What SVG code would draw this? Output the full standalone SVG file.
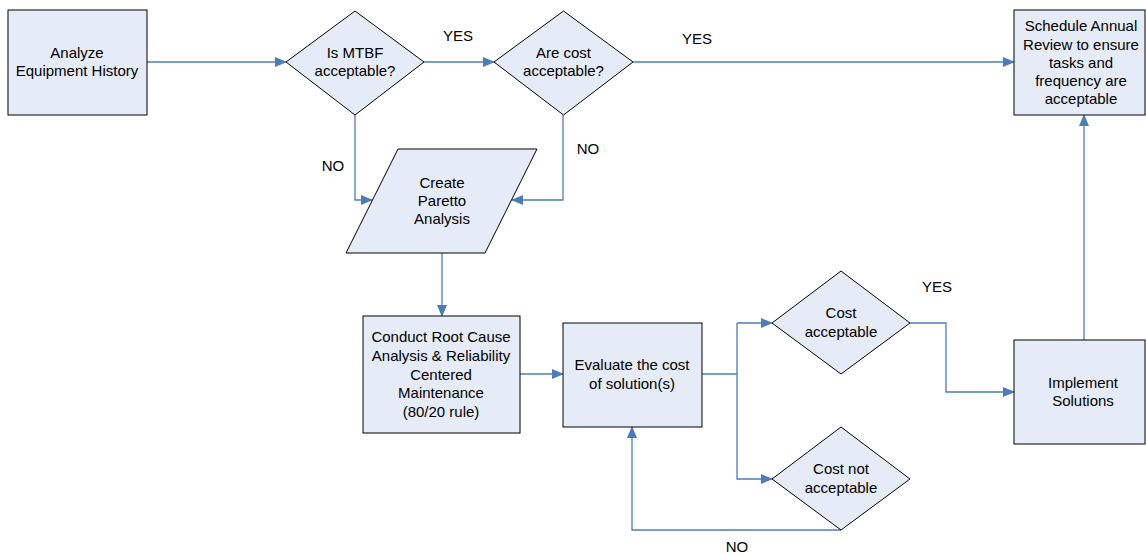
<svg xmlns="http://www.w3.org/2000/svg" width="1146" height="554" viewBox="0 0 1146 554">
<defs>
<style>
.n{fill:#e6ecf7;stroke:#000;stroke-width:1}
.t{font-family:"Liberation Sans",Arial,sans-serif;font-size:15px;fill:#000;text-anchor:middle}
.c{fill:none;stroke:#4a7ebb;stroke-width:1.3}
</style>
<marker id="a" markerWidth="12" markerHeight="10" refX="11" refY="5" orient="auto" markerUnits="userSpaceOnUse">
<path d="M0,0 L12,5 L0,10 Z" fill="#4a7ebb"/>
</marker>
</defs>
<rect width="1146" height="554" fill="#fff"/>
<g id="connectors">
<path class="c" d="M147,62 H286" marker-end="url(#a)"/>
<path class="c" d="M424,62 H494" marker-end="url(#a)"/>
<path class="c" d="M633,62 H1014" marker-end="url(#a)"/>
<path class="c" d="M355,115 V200 H372" marker-end="url(#a)"/>
<path class="c" d="M563,115 V200 H512" marker-end="url(#a)"/>
<path class="c" d="M442,253 V316" marker-end="url(#a)"/>
<path class="c" d="M520,374 H563" marker-end="url(#a)"/>
<path class="c" d="M702,374 H737"/>
<path class="c" d="M737,323 H772" marker-end="url(#a)"/>
<path class="c" d="M737,323 V479 H772" marker-end="url(#a)"/>
<path class="c" d="M910,323 H946 V392 H1014" marker-end="url(#a)"/>
<path class="c" d="M1084,340 V115" marker-end="url(#a)"/>
<path class="c" d="M841,530 H632 V427" marker-end="url(#a)"/>
</g>
<g id="analyze">
<rect class="n" x="8" y="10" width="139" height="105"/>
<text class="t" x="77" y="58">Analyze</text>
<text class="t" x="77" y="76">Equipment History</text>
</g>
<g id="mtbf">
<polygon class="n" points="355,11 424,62 355,115 286,62"/>
<text class="t" x="355" y="58">Is MTBF</text>
<text class="t" x="355" y="76">acceptable?</text>
</g>
<g id="cost">
<polygon class="n" points="563.5,11 633,62 563.5,115 494,62"/>
<text class="t" x="563.5" y="58">Are cost</text>
<text class="t" x="563.5" y="76">acceptable?</text>
</g>
<g id="schedule">
<rect class="n" x="1014" y="10" width="131" height="105"/>
<text class="t" x="1081" y="31">Schedule Annual</text>
<text class="t" x="1081" y="49.5">Review to ensure</text>
<text class="t" x="1081" y="68">tasks and</text>
<text class="t" x="1081" y="86">frequency are</text>
<text class="t" x="1081" y="104">acceptable</text>
</g>
<g id="pareto">
<polygon class="n" points="398,149 537,149 485,253 346,253"/>
<text class="t" x="442" y="188">Create</text>
<text class="t" x="442" y="206">Paretto</text>
<text class="t" x="442" y="224">Analysis</text>
</g>
<g id="rca">
<rect class="n" x="363" y="316" width="157" height="117"/>
<text class="t" x="441" y="342">Conduct Root Cause</text>
<text class="t" x="441" y="361">Analysis &amp; Reliability</text>
<text class="t" x="441" y="380">Centered</text>
<text class="t" x="441" y="398">Maintenance</text>
<text class="t" x="441" y="417">(80/20 rule)</text>
</g>
<g id="evaluate">
<rect class="n" x="563" y="323" width="139" height="104"/>
<text class="t" x="632" y="370">Evaluate the cost</text>
<text class="t" x="632" y="389">of solution(s)</text>
</g>
<g id="costok">
<polygon class="n" points="841,271 910,323 841,374 772,323"/>
<text class="t" x="841" y="318">Cost</text>
<text class="t" x="841" y="337">acceptable</text>
</g>
<g id="costnot">
<polygon class="n" points="841,427 910,479 841,530 772,479"/>
<text class="t" x="841" y="474">Cost not</text>
<text class="t" x="841" y="493">acceptable</text>
</g>
<g id="implement">
<rect class="n" x="1014" y="340" width="131" height="104"/>
<text class="t" x="1083" y="388">Implement</text>
<text class="t" x="1083" y="406">Solutions</text>
</g>
<g id="labels">
<text class="t" x="458" y="41">YES</text>
<text class="t" x="697" y="44">YES</text>
<text class="t" x="333" y="171">NO</text>
<text class="t" x="588" y="154">NO</text>
<text class="t" x="937" y="292">YES</text>
<text class="t" x="737" y="552">NO</text>
</g>
</svg>
